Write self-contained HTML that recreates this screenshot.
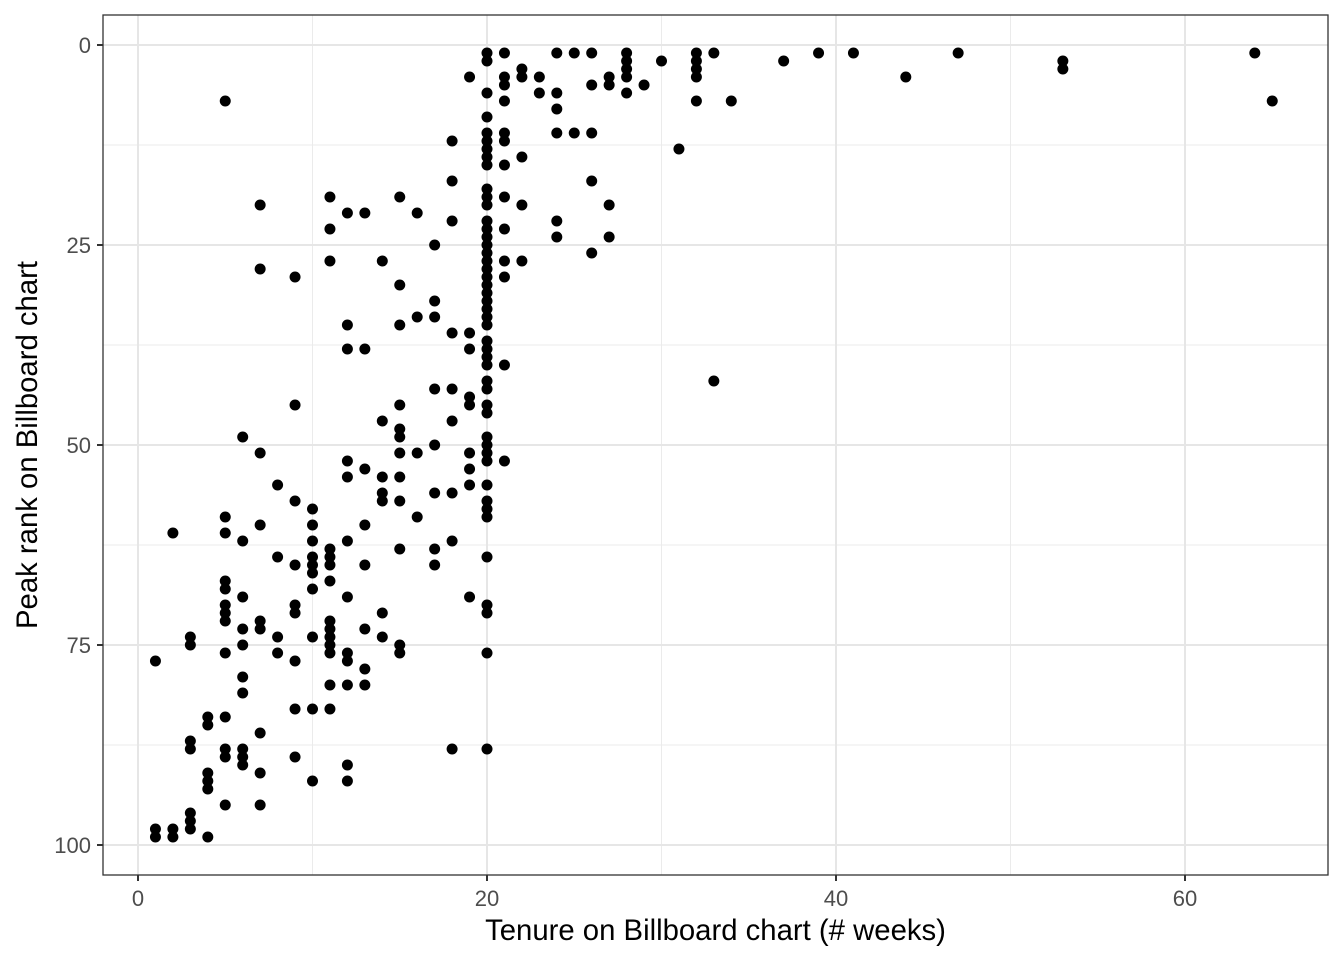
<!DOCTYPE html>
<html><head><meta charset="utf-8"><style>
body{margin:0;background:#fff;}
svg{display:block;font-family:"Liberation Sans",sans-serif;}
</style></head><body>
<svg id="chart" width="1344" height="960"></svg>
<script>
const tenure = [1,1,1,2,2,2,3,3,3,3,3,3,3,4,4,4,4,4,4,
5,5,5,5,5,5,5,5,5,5,5,5,5,6,6,6,6,6,6,6,6,6,6,
7,7,7,7,7,7,7,7,7,8,8,8,8,9,9,9,9,9,9,9,9,9,
10,10,10,10,10,10,10,10,10,10,11,11,11,11,11,11,11,11,11,11,11,11,11,11,
12,12,12,12,12,12,12,12,12,12,12,12,13,13,13,13,13,13,13,13,
14,14,14,14,14,14,14,15,15,15,15,15,15,15,15,15,15,15,15,
16,16,16,16,17,17,17,17,17,17,17,17,18,18,18,18,18,18,18,18,18,
19,19,19,19,19,19,19,19,19,
20,20,20,20,20,20,20,20,20,20,20,20,20,20,20,20,20,20,20,20,20,20,20,20,20,20,20,20,20,20,20,20,20,20,20,20,20,20,20,20,20,20,20,20,20,20,20,
21,21,21,21,21,21,21,21,21,21,21,21,21,22,22,22,22,22,23,23,
24,24,24,24,24,24,25,25,26,26,26,26,26,27,27,27,27,28,28,28,28,28,29,30,31,
32,32,32,32,32,33,33,34,37,39,41,44,47,53,53,64,65];
const peak = [77,98,99,61,98,99,74,75,87,88,96,97,98,84,85,91,92,93,99,
7,59,61,67,68,70,71,72,76,84,88,89,95,49,62,69,73,75,79,81,88,89,90,
20,28,51,60,72,73,86,91,95,55,64,74,76,29,45,57,65,70,71,83,77,89,
58,60,62,64,65,66,68,74,83,92,19,23,27,63,64,65,67,72,73,74,75,76,80,83,
21,35,38,52,54,62,69,76,77,80,90,92,21,38,53,60,65,73,78,80,
27,47,54,57,56,71,74,19,30,35,45,48,49,51,54,57,63,75,76,
21,34,51,59,25,32,34,43,50,56,63,65,12,17,22,36,43,47,56,62,88,
4,36,38,44,45,51,53,55,69,
1,2,6,9,11,12,13,14,15,18,19,20,22,23,24,25,26,27,28,29,30,31,32,33,34,35,37,38,39,40,42,43,45,46,49,50,51,52,55,57,58,59,64,70,71,76,88,
1,4,5,7,11,12,15,19,23,27,29,40,52,3,4,14,20,27,4,6,
1,6,8,11,22,24,1,11,1,5,11,17,26,4,5,20,24,1,2,3,4,6,5,2,13,
1,2,3,4,7,1,42,7,2,1,1,4,1,2,3,1,7];
const xTicks=[0,20,40,60], yTicks=[0,25,50,75,100];
const xMinor=[10,30,50], yMinor=[12.5,37.5,62.5,87.5];

const svg=document.getElementById('chart');
const NS='http://www.w3.org/2000/svg';
const L=103,R=1328,T=15,B=875;
const X=v=>138+v*(1185-138)/60;
const Y=v=>45+v*8;
function mk(tag,attrs,parent){const e=document.createElementNS(NS,tag);for(const k in attrs)e.setAttribute(k,attrs[k]);(parent||svg).appendChild(e);return e;}
const g=mk('g',{});


xMinor.forEach(v=>mk('line',{x1:X(v),x2:X(v),y1:T,y2:B,stroke:'#ebebeb','stroke-width':1},g));
yMinor.forEach(v=>mk('line',{x1:L,x2:R,y1:Y(v),y2:Y(v),stroke:'#ebebeb','stroke-width':1},g));
xTicks.forEach(v=>mk('line',{x1:X(v),x2:X(v),y1:T,y2:B,stroke:'#e6e6e6','stroke-width':2},g));
yTicks.forEach(v=>mk('line',{x1:L,x2:R,y1:Y(v),y2:Y(v),stroke:'#e6e6e6','stroke-width':2},g));
const pts=mk('g',{});


for(let i=0;i<tenure.length;i++){
  const c=mk('circle',{cx:X(tenure[i]),cy:Y(peak[i]),r:5.5,fill:'#000'},pts);
  
  
}
const fr=mk('rect',{x:L,y:T,width:R-L,height:B-T,fill:'none',stroke:'#333','stroke-width':1.3});


xTicks.forEach(v=>{
  mk('line',{x1:X(v),x2:X(v),y1:B,y2:B+6,stroke:'#333','stroke-width':2});
  const t=mk('text',{x:X(v),y:906,'text-anchor':'middle','font-size':22,fill:'#4d4d4d'});
  t.textContent=v;
  
  
});
yTicks.forEach(v=>{
  mk('line',{x1:L-6,x2:L,y1:Y(v),y2:Y(v),stroke:'#333','stroke-width':2});
  const t=mk('text',{x:L-12,y:Y(v)+8,'text-anchor':'end','font-size':22,fill:'#4d4d4d'});
  t.textContent=v;
  
  
});
const xt=mk('text',{x:(L+R)/2,y:940,'text-anchor':'middle','font-size':29.3,fill:'#000'});
xt.textContent='Tenure on Billboard chart (# weeks)';


const yt=mk('text',{x:0,y:0,'text-anchor':'middle','font-size':29.3,fill:'#000',transform:'translate(37,445) rotate(-90)'});
yt.textContent='Peak rank on Billboard chart';


</script>
</body></html>
